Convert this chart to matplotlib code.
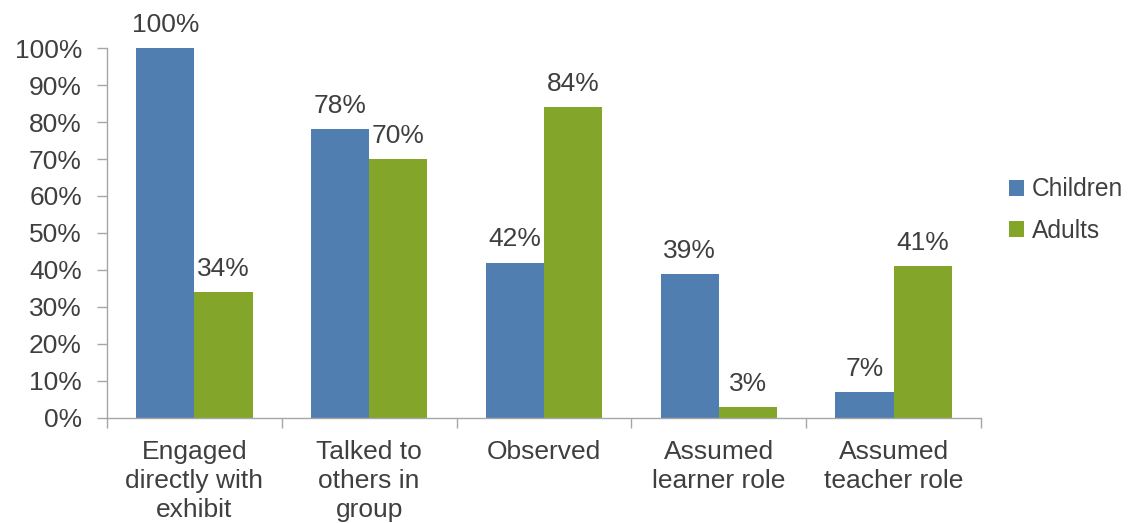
import matplotlib
matplotlib.use("Agg")
import matplotlib.pyplot as plt
import numpy as np
from matplotlib.ticker import FixedLocator, PercentFormatter

plt.rcParams['font.family'] = ['Liberation Sans', 'DejaVu Sans']

categories = ["Engaged\ndirectly with\nexhibit", "Talked to\nothers in\ngroup",
              "Observed", "Assumed\nlearner role", "Assumed\nteacher role"]
children = [100, 78, 42, 39, 7]
adults = [34, 70, 84, 3, 41]
series_names = ["Children", "Adults"]
y_ticks = list(range(0, 101, 10))

blue = "#517EB0"
green = "#83A62A"
text_color = "#3F3F3F"
axis_color = "#A6A6A6"
fs = 19

fig = plt.figure(figsize=(11.32, 5.23), dpi=100)
ax = fig.add_axes([0.0945, 0.2008, 0.7721, 0.7074])

x = np.arange(len(categories))
w = 1 / 3
b1 = ax.bar(x - w / 2, children, w, color=blue, label=series_names[0])
b2 = ax.bar(x + w / 2, adults, w, color=green, label=series_names[1])

for bars, vals in ((b1, children), (b2, adults)):
    for rect, v in zip(bars, vals):
        ax.annotate(f"{v}%", (rect.get_x() + rect.get_width() / 2, v),
                    xytext=(0, 8), textcoords="offset points",
                    ha="center", va="bottom", fontsize=fs, color=text_color)

ax.set_xlim(-0.5, len(categories) - 0.5)
ax.set_ylim(0, 100)
ax.yaxis.set_major_locator(FixedLocator(y_ticks))
ax.yaxis.set_major_formatter(PercentFormatter(decimals=0))

# category labels centred, separators as ticks between categories
ax.set_xticks(x)
ax.set_xticklabels(categories, fontsize=fs, color=text_color, linespacing=1.26)
ax.tick_params(axis="x", which="major", length=0, pad=16)
ax.set_xticks(np.arange(-0.5, len(categories)), minor=True)
ax.tick_params(axis="x", which="minor", length=7, width=1, color=axis_color)
ax.tick_params(axis="y", length=7, width=1, color=axis_color,
               labelsize=fs, labelcolor=text_color, pad=11)

for side in ("top", "right"):
    ax.spines[side].set_visible(False)
for side in ("left", "bottom"):
    ax.spines[side].set_color(axis_color)
    ax.spines[side].set_linewidth(1)

leg = fig.legend(handles=[b1, b2], labels=series_names,
                 loc="center left", bbox_to_anchor=(0.872, 0.598),
                 frameon=False, fontsize=fs * 0.93, handlelength=0.62,
                 handleheight=0.62, handletextpad=0.3, labelspacing=0.72)
for t in leg.get_texts():
    t.set_color(text_color)

fig.savefig("out.png", dpi=100)
